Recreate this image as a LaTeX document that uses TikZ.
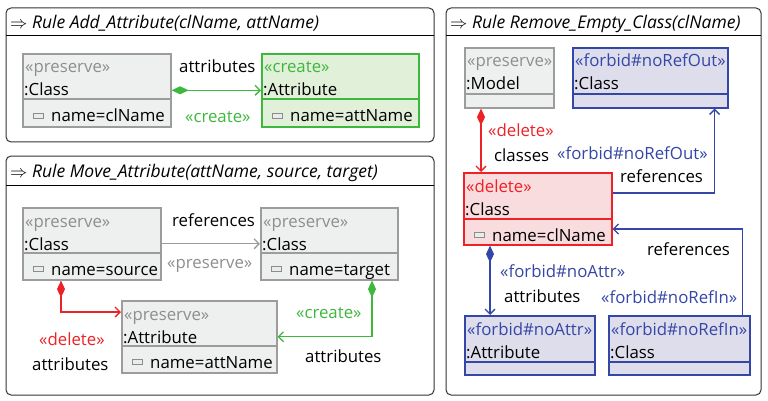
\documentclass[tikz,border=0pt]{standalone}
\usepackage{fontspec}
\setmainfont{Open Sans}
\usetikzlibrary{arrows.meta,calc}

\definecolor{presline}{HTML}{9C9C9C}
\definecolor{presfill}{HTML}{EEEFEF}
\definecolor{prestext}{HTML}{8E8E8E}
\definecolor{crgreen}{HTML}{3DB83D}
\definecolor{crfill}{HTML}{E1F0D9}
\definecolor{delred}{HTML}{EC2227}
\definecolor{delfill}{HTML}{F9DCDD}
\definecolor{fbblue}{HTML}{3547A6}
\definecolor{fbfill}{HTML}{DDDDEC}

\begin{document}
\begin{tikzpicture}[x=1pt, y=-1pt,
    font=\fontsize{16.8}{20}\selectfont,
    panel/.style={draw=black!80, line width=1pt, rounded corners=5pt},
    headline/.style={draw=black, line width=1pt},
    title/.style={anchor=base west, inner sep=0pt, font=\fontsize{17.5}{20}\selectfont\itshape},
    box/.style={anchor=north west, inner sep=0pt, line width=1.6pt},
    presbox/.style={box, draw=presline, fill=presfill},
    crbox/.style={box, draw=crgreen, fill=crfill},
    delbox/.style={box, draw=delred, fill=delfill},
    fbbox/.style={box, draw=fbblue, fill=fbfill},
    txt/.style={anchor=base west, inner sep=0pt},
    icon/.style={draw=black!45, fill=black!8, line width=0.8pt},
    conn/.style={line width=1.3pt},
    comp/.style={conn, {Diamond[length=17pt,width=8pt]}-{Straight Barb[length=5pt,width=10pt]}},
    ref/.style={conn, -{Straight Barb[length=5pt,width=10pt]}}
]
\fill[white] (0,0) rectangle (768,401);

% Panels
\draw[panel] (6,8) rectangle (434,142);
\draw[headline] (6,36) -- (434,36);
\node[title] (t1) at (10,29) {$\Rightarrow$ Rule Add\_Attribute(clName, attName)};

\draw[panel] (6,156) rectangle (434,395);
\draw[headline] (6,185) -- (434,185);
\node[title] (t2) at (10,177) {$\Rightarrow$ Rule Move\_Attribute(attName, source, target)};

\draw[panel] (446,8) rectangle (761,395);
\draw[headline] (446,36) -- (761,36);
\node[title] (t3) at (450,29) {$\Rightarrow$ Rule Remove\_Empty\_Class(clName)};

% Rule Add_Attribute
\node[presbox, minimum width=148pt, minimum height=73pt] (a1) at (22,53) {};
\draw[presline, line width=1.6pt] ($(a1.north west)+(0,46)$) -- ($(a1.north east)+(0,46)$);
\node[txt, prestext] (a1-st) at ($(a1.north west)+(3,20)$) {«preserve»};
\node[txt] (a1-nm) at ($(a1.north west)+(2,43)$) {:Class};
\draw[icon] ($(a1.north west)+(11,60)$) rectangle ++(10,5);
\node[txt] (a1-at) at ($(a1.north west)+(29,69)$) {name=clName};

\node[crbox, minimum width=157pt, minimum height=73pt] (a2) at (261,53) {};
\draw[crgreen, line width=1.6pt] ($(a2.north west)+(0,46)$) -- ($(a2.north east)+(0,46)$);
\node[txt, crgreen] (a2-st) at ($(a2.north west)+(3,20)$) {«create»};
\node[txt] (a2-nm) at ($(a2.north west)+(2,43)$) {:Attribute};
\draw[icon] ($(a2.north west)+(11,60)$) rectangle ++(10,5);
\node[txt] (a2-at) at ($(a2.north west)+(29,69)$) {name=attName};

\draw[comp, crgreen] (a1) -- (a2);
\node[txt] (a-lb1) at (179,73) {attributes};
\node[txt, crgreen] (a-lb2) at (185,123) {«create»};

% Rule Move_Attribute
\node[presbox, minimum width=138pt, minimum height=72pt] (m1) at (22,207) {};
\draw[presline, line width=1.6pt] ($(m1.north west)+(0,46)$) -- ($(m1.north east)+(0,46)$);
\node[txt, prestext] (m1-st) at ($(m1.north west)+(3,20)$) {«preserve»};
\node[txt] (m1-nm) at ($(m1.north west)+(2,43)$) {:Class};
\draw[icon] ($(m1.north west)+(11,59)$) rectangle ++(10,5);
\node[txt] (m1-at) at ($(m1.north west)+(29,68)$) {name=source};

\node[presbox, minimum width=137pt, minimum height=72pt] (m2) at (260,207) {};
\draw[presline, line width=1.6pt] ($(m2.north west)+(0,46)$) -- ($(m2.north east)+(0,46)$);
\node[txt, prestext] (m2-st) at ($(m2.north west)+(3,20)$) {«preserve»};
\node[txt] (m2-nm) at ($(m2.north west)+(2,43)$) {:Class};
\draw[icon] ($(m2.north west)+(11,59)$) rectangle ++(10,5);
\node[txt] (m2-at) at ($(m2.north west)+(29,68)$) {name=target};

\node[presbox, minimum width=155pt, minimum height=72pt] (m3) at (121,300) {};
\draw[presline, line width=1.6pt] ($(m3.north west)+(0,46)$) -- ($(m3.north east)+(0,46)$);
\node[txt, prestext] (m3-st) at ($(m3.north west)+(3,20)$) {«preserve»};
\node[txt] (m3-nm) at ($(m3.north west)+(2,43)$) {:Attribute};
\draw[icon] ($(m3.north west)+(11,59)$) rectangle ++(10,5);
\node[txt] (m3-at) at ($(m3.north west)+(29,68)$) {name=attName};

\draw[ref, presline] (m1) -- (m2);
\node[txt] (m-lb1) at (172,226) {references};
\node[txt, prestext] (m-lb2) at (167,268) {«preserve»};

\coordinate (m1d) at ($(m1.south west)+(39,0)$);
\coordinate (m3d) at ($(m3.north west)+(0,12)$);
\draw[comp, delred] (m1d) |- (m3d);
\node[txt, delred] (m-lb3) at (39,345) {«delete»};
\node[txt] (m-lb4) at (32,370) {attributes};

\coordinate (m2d) at ($(m2.south west)+(112,0)$);
\draw[comp, crgreen] (m2d) |- (m3.east);
\node[txt, crgreen] (m-lb5) at (296,318) {«create»};
\node[txt] (m-lb6) at (305,362) {attributes};

% Rule Remove_Empty_Class
\node[presbox, minimum width=89pt, minimum height=60pt] (r1) at (464,47) {};
\draw[presline, line width=1.6pt] ($(r1.north west)+(0,47)$) -- ($(r1.north east)+(0,47)$);
\node[txt, prestext] (r1-st) at ($(r1.north west)+(3,20)$) {«preserve»};
\node[txt] (r1-nm) at ($(r1.north west)+(2,43)$) {:Model};

\node[fbbox, minimum width=155pt, minimum height=60pt] (r2) at (572,47) {};
\draw[fbblue, line width=1.6pt] ($(r2.north west)+(0,47)$) -- ($(r2.north east)+(0,47)$);
\node[txt, fbblue] (r2-st) at ($(r2.north west)+(3,20)$) {«forbid\#noRefOut»};
\node[txt] (r2-nm) at ($(r2.north west)+(2,43)$) {:Class};

\node[delbox, minimum width=148pt, minimum height=72pt] (r3) at (463,172) {};
\draw[delred, line width=1.6pt] ($(r3.north west)+(0,47)$) -- ($(r3.north east)+(0,47)$);
\node[txt, delred] (r3-st) at ($(r3.north west)+(3,20)$) {«delete»};
\node[txt] (r3-nm) at ($(r3.north west)+(2,43)$) {:Class};
\draw[icon] ($(r3.north west)+(11,60)$) rectangle ++(10,5);
\node[txt] (r3-at) at ($(r3.north west)+(29,69)$) {name=clName};

\node[fbbox, minimum width=130pt, minimum height=59pt] (r4) at (464,315) {};
\draw[fbblue, line width=1.6pt] ($(r4.north west)+(0,47)$) -- ($(r4.north east)+(0,47)$);
\node[txt, fbblue] (r4-st) at ($(r4.north west)+(3,20)$) {«forbid\#noAttr»};
\node[txt] (r4-nm) at ($(r4.north west)+(2,43)$) {:Attribute};

\node[fbbox, minimum width=141pt, minimum height=59pt] (r5) at (608,315) {};
\draw[fbblue, line width=1.6pt] ($(r5.north west)+(0,47)$) -- ($(r5.north east)+(0,47)$);
\node[txt, fbblue] (r5-st) at ($(r5.north west)+(3,20)$) {«forbid\#noRefIn»};
\node[txt] (r5-nm) at ($(r5.north west)+(2,43)$) {:Class};

\coordinate (r1d) at ($(r1.south west)+(17,0)$);
\draw[comp, delred] (r1d) -- (r1d |- r3.north);
\node[txt, delred] (r-lb1) at (488,137) {«delete»};
\node[txt] (r-lb2) at (494,161) {classes};

\coordinate (r3o) at ($(r3.north east)+(0,21)$);
\coordinate (r2i) at ($(r2.south east)+(-14,0)$);
\draw[ref, fbblue] (r3o) -| (r2i);
\node[txt, fbblue] (r-lb3) at (557,159) {«forbid\#noRefOut»};
\node[txt] (r-lb4) at (620,182) {references};

\coordinate (r5o) at ($(r5.north east)+(-8,0)$);
\coordinate (r3i) at ($(r3.north east)+(0,57)$);
\draw[ref, fbblue] (r5o) |- (r3i);
\node[txt] (r-lb5) at (647,255) {references};
\node[txt, fbblue] (r-lb6) at (601,303) {«forbid\#noRefIn»};

\coordinate (r3d) at ($(r3.south west)+(27,0)$);
\draw[comp, fbblue] (r3d) -- (r3d |- r4.north);
\node[txt, fbblue] (r-lb7) at (500,277) {«forbid\#noAttr»};
\node[txt] (r-lb8) at (504,302) {attributes};

\end{tikzpicture}
\end{document}
